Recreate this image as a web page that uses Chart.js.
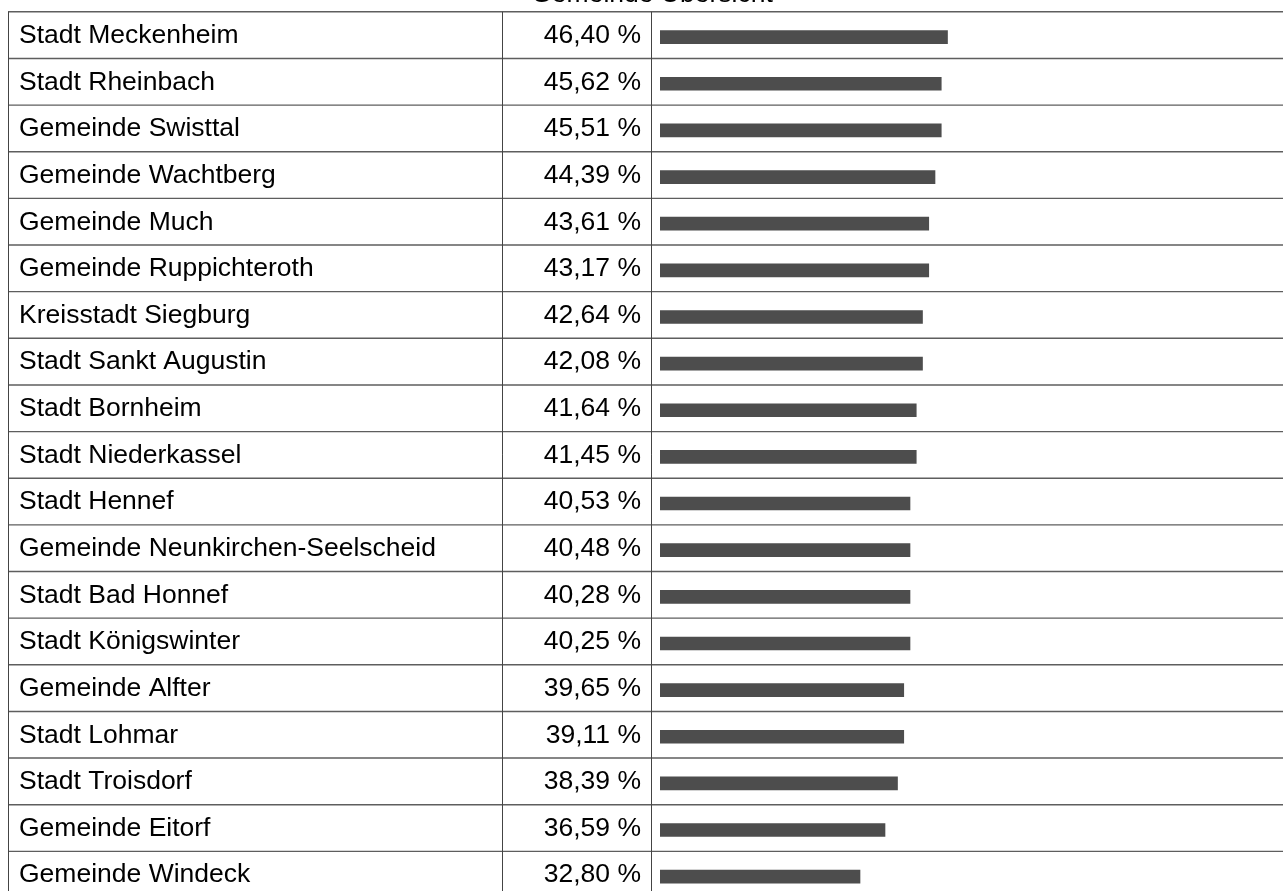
<!DOCTYPE html>
<html>
<head>
<meta charset="utf-8">
<script src="https://cdn.jsdelivr.net/npm/chart.js@4.4.1/dist/chart.umd.min.js"></script>
<style>
  html, body { margin: 0; padding: 0; background: #fff; overflow: hidden; width: 1283px; height: 891px; }
  #wrap { position: absolute; left: 0; top: -21px; width: 1304px; height: 921px; }
</style>
</head>
<body>
<div id="wrap"><canvas id="overview" width="1304" height="921"></canvas></div>
<script>
// Gemeinden, sorted as in the table
const municipalities = [
    'Stadt Meckenheim', 'Stadt Rheinbach', 'Gemeinde Swisttal', 'Gemeinde Wachtberg',
    'Gemeinde Much', 'Gemeinde Ruppichteroth', 'Kreisstadt Siegburg', 'Stadt Sankt Augustin',
    'Stadt Bornheim', 'Stadt Niederkassel', 'Stadt Hennef', 'Gemeinde Neunkirchen-Seelscheid',
    'Stadt Bad Honnef', 'Stadt Königswinter', 'Gemeinde Alfter', 'Stadt Lohmar',
    'Stadt Troisdorf', 'Gemeinde Eitorf', 'Gemeinde Windeck'
];

// shown percentages
const shares = [
    46.40, 45.62, 45.51, 44.39, 43.61, 43.17, 42.64, 42.08, 41.64, 41.45,
    40.53, 40.48, 40.28, 40.25, 39.65, 39.11, 38.39, 36.59, 32.80
];

// bar lengths as drawn (whole percent steps)
const barLevels = [46, 45, 45, 44, 43, 43, 42, 42, 41, 41, 40, 40, 40, 40, 39, 39, 38, 36, 32];

const shareLabels = shares.map(v => v.toFixed(2).replace('.', ',') + ' %');

const FONT = "'Liberation Sans', Arial, Helvetica, sans-serif";
const FONT_SIZE = 26.5;

// table borders around the rows
const tableLines = {
    id: 'tableLines',
    beforeDatasetsDraw(chart) {
        const { ctx, chartArea } = chart;
        const nameAxis = chart.scales.y;
        const n = municipalities.length;
        const rowH = (chartArea.bottom - chartArea.top) / n;
        const top = chartArea.top - 2;
        const bottom = top + n * rowH;
        ctx.save();
        ctx.strokeStyle = '#5e5e5e';
        ctx.lineWidth = 1.4;
        for (let i = 0; i <= n; i++) {
            const y = top + i * rowH;
            ctx.beginPath();
            ctx.moveTo(nameAxis.left - 11, y);
            ctx.lineTo(chart.width, y);
            ctx.stroke();
        }
        ctx.strokeStyle = '#444';
        ctx.lineWidth = 1;
        [nameAxis.left - 10.5, chart.scales.yPct.left + 0.5, chartArea.left - 8.5].forEach(x => {
            ctx.beginPath();
            ctx.moveTo(x, top);
            ctx.lineTo(x, bottom);
            ctx.stroke();
        });
        ctx.restore();
    }
};

const ctx = document.getElementById('overview').getContext('2d');
new Chart(ctx, {
    type: 'bar',
    data: {
        labels: municipalities,
        datasets: [{
            data: barLevels,
            backgroundColor: '#4d4d4d',
            borderWidth: 0,
            barThickness: 13,
            yAxisID: 'y'
        }]
    },
    options: {
        indexAxis: 'y',
        responsive: false,
        animation: false,
        devicePixelRatio: 1,
        layout: { padding: { left: 19, right: 19, top: 0, bottom: 0 } },
        scales: {
            x: { display: false, min: 0, max: 100 },
            y: {
                position: 'left',
                weight: 2,
                offset: true,
                grid: { display: false, drawTicks: false },
                border: { display: false },
                ticks: {
                    autoSkip: false,
                    crossAlign: 'far',
                    labelOffset: -1.5,
                    padding: 0,
                    color: '#000',
                    font: { family: FONT, size: FONT_SIZE }
                },
                afterFit(scale) {
                    scale.width = 483;
                    scale.paddingTop = 0;
                    scale.paddingBottom = 0;
                }
            },
            yPct: {
                type: 'category',
                position: 'left',
                weight: 1,
                offset: true,
                labels: shareLabels,
                grid: { display: false, drawTicks: false },
                border: { display: false },
                ticks: {
                    autoSkip: false,
                    crossAlign: 'near',
                    labelOffset: -1.5,
                    padding: 19,
                    color: '#000',
                    font: { family: FONT, size: FONT_SIZE }
                },
                afterFit(scale) {
                    scale.width = 158;
                    scale.paddingTop = 0;
                    scale.paddingBottom = 0;
                }
            }
        },
        plugins: {
            legend: { display: false },
            tooltip: { enabled: false },
            title: {
                display: true,
                text: 'Gemeinde Übersicht',
                color: '#000',
                font: { family: FONT, size: FONT_SIZE, weight: 'normal' },
                padding: { top: 0, bottom: 3 }
            }
        }
    },
    plugins: [tableLines]
});
</script>
</body>
</html>
